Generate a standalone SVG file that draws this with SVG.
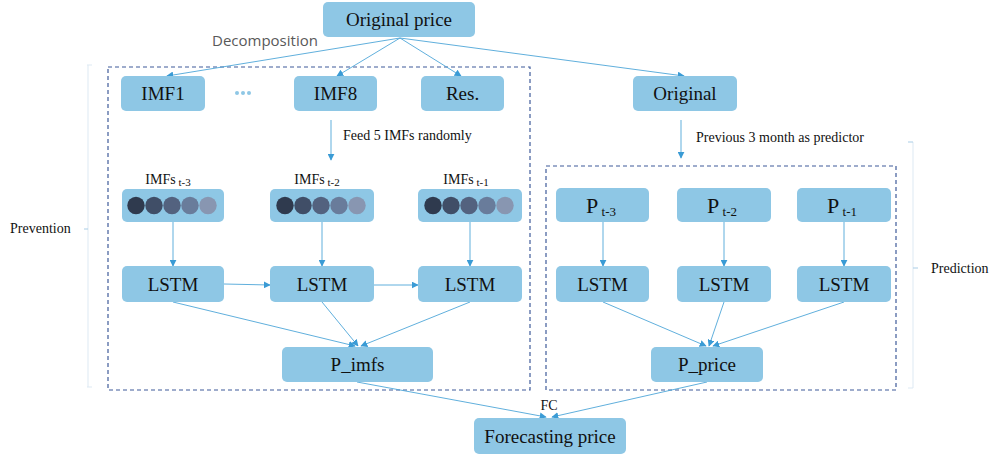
<svg xmlns="http://www.w3.org/2000/svg" width="999" height="462" viewBox="0 0 999 462">
<style>
.n{fill:#8ec7e5;}
.t{font-family:"Liberation Serif","Times New Roman",serif;font-size:19px;fill:#111;text-anchor:middle;}
.s{font-family:"Liberation Serif","Times New Roman",serif;font-size:14px;fill:#111;}
.c{stroke:#4ea6d8;stroke-width:0.9;fill:none;marker-end:url(#ah);}
.d{fill:none;stroke:#3f5b9a;stroke-width:1.2;stroke-dasharray:4 3;}
.b{fill:none;stroke:#dde9f3;stroke-width:1;}
.bt{stroke:#a9cde6;stroke-width:1;}
</style>
<defs>
<marker id="ah" viewBox="0 0 10 10" refX="9" refY="5" markerWidth="7" markerHeight="7" markerUnits="userSpaceOnUse" orient="auto">
<path d="M0,0 L10,5 L0,10 z" fill="#3a9bd5"/>
</marker>
<g id="dots">
<circle cx="0" cy="0" r="8.7" fill="#2f3a4e"/>
<circle cx="18" cy="0" r="8.7" fill="#404e67"/>
<circle cx="36" cy="0" r="8.7" fill="#53627f"/>
<circle cx="54" cy="0" r="8.7" fill="#697c9b"/>
<circle cx="72" cy="0" r="8.7" fill="#8896b1"/>
</g>
</defs>
<rect width="999" height="462" fill="#fff"/>

<!-- group frames -->
<rect class="d" x="108" y="67" width="422" height="323"/>
<rect class="d" x="546" y="166" width="350" height="224"/>

<!-- brackets -->
<g id="bracket-left">
<line class="b" x1="88" y1="65" x2="88" y2="387"/>
<line class="bt" x1="84" y1="229" x2="88" y2="229"/>
<line class="b" x1="87" y1="65" x2="92" y2="65"/>
<line class="b" x1="87" y1="387" x2="92" y2="387"/>
<text class="s" x="10" y="233">Prevention</text>
</g>
<g id="bracket-right">
<line class="b" x1="913" y1="142" x2="913" y2="388"/>
<line class="bt" x1="908" y1="142" x2="913" y2="142"/>
<line class="b" x1="908" y1="388" x2="913" y2="388"/>
<line class="bt" x1="913" y1="268" x2="918" y2="268"/>
<text class="s" x="931" y="273">Prediction</text>
</g>

<!-- connectors -->
<g id="connectors">
<line class="c" x1="400" y1="38" x2="167" y2="76"/>
<line class="c" x1="400" y1="38" x2="337" y2="76"/>
<line class="c" x1="400" y1="38" x2="461" y2="76"/>
<line class="c" x1="400" y1="38" x2="684" y2="76"/>
<line class="c" x1="331" y1="120" x2="331" y2="160"/>
<line class="c" x1="681" y1="120" x2="681" y2="158"/>
<line class="c" x1="173" y1="222" x2="173" y2="266"/>
<line class="c" x1="322" y1="222" x2="322" y2="266"/>
<line class="c" x1="470" y1="222" x2="470" y2="266"/>
<line class="c" x1="224" y1="284" x2="270" y2="285"/>
<line class="c" x1="374" y1="285" x2="418" y2="285"/>
<line class="c" x1="173" y1="302" x2="355" y2="346"/>
<line class="c" x1="322" y1="302" x2="358" y2="346"/>
<line class="c" x1="470" y1="302" x2="361" y2="346"/>
<line class="c" x1="603" y1="222" x2="603" y2="266"/>
<line class="c" x1="724" y1="222" x2="724" y2="266"/>
<line class="c" x1="844" y1="222" x2="844" y2="266"/>
<line class="c" x1="603" y1="302" x2="706" y2="346"/>
<line class="c" x1="724" y1="302" x2="709" y2="346"/>
<line class="c" x1="844" y1="302" x2="713" y2="346"/>
<line class="c" x1="357" y1="382" x2="546" y2="417"/>
<line class="c" x1="707" y1="382" x2="552" y2="417"/>
</g>

<!-- labels -->
<text x="212" y="46" font-family="'Open Sans','Noto Sans',sans-serif" font-size="15" fill="#595959">Decomposition</text>
<text class="s" x="343" y="140" font-size="14.3">Feed 5 IMFs randomly</text>
<text class="s" x="696" y="142" font-size="15.6">Previous 3 month as predictor</text>
<text class="s" x="549" y="410" text-anchor="middle">FC</text>
<g fill="#8ec7e5"><circle cx="237" cy="93" r="2"/><circle cx="243" cy="93" r="2"/><circle cx="249" cy="93" r="2"/></g>

<!-- nodes -->
<g id="original-price"><rect class="n" x="323" y="2" width="152" height="35" rx="5"/><text class="t" x="399" y="26">Original price</text></g>
<g id="imf1"><rect class="n" x="121" y="76" width="84" height="35" rx="5"/><text class="t" x="163" y="100">IMF1</text></g>
<g id="imf8"><rect class="n" x="294" y="76" width="83" height="35" rx="5"/><text class="t" x="335.5" y="100">IMF8</text></g>
<g id="res"><rect class="n" x="421" y="76" width="83" height="35" rx="5"/><text class="t" x="462.5" y="100">Res.</text></g>
<g id="original"><rect class="n" x="633" y="76" width="104" height="35" rx="5"/><text class="t" x="685" y="100">Original</text></g>

<g id="imfs-t3"><text class="s" x="168" y="184" text-anchor="middle">IMFs<tspan font-size="11" dy="2"> t-3</tspan></text><rect class="n" x="122" y="189" width="102" height="33" rx="5"/><use href="#dots" x="136" y="205.5"/></g>
<g id="imfs-t2"><text class="s" x="317" y="184" text-anchor="middle">IMFs<tspan font-size="11" dy="2"> t-2</tspan></text><rect class="n" x="270" y="189" width="104" height="33" rx="5"/><use href="#dots" x="285" y="205.5"/></g>
<g id="imfs-t1"><text class="s" x="466" y="184" text-anchor="middle">IMFs<tspan font-size="11" dy="2"> t-1</tspan></text><rect class="n" x="418" y="189" width="104" height="33" rx="5"/><use href="#dots" x="433" y="205.5"/></g>

<g id="lstm1"><rect class="n" x="122" y="266" width="102" height="36" rx="5"/><text class="t" x="173" y="291" font-size="20">LSTM</text></g>
<g id="lstm2"><rect class="n" x="270" y="266" width="104" height="36" rx="5"/><text class="t" x="322" y="291" font-size="20">LSTM</text></g>
<g id="lstm3"><rect class="n" x="418" y="266" width="104" height="36" rx="5"/><text class="t" x="470" y="291" font-size="20">LSTM</text></g>
<g id="p-imfs"><rect class="n" x="282" y="347" width="151" height="35" rx="5"/><text class="t" x="357.5" y="371">P_imfs</text></g>

<g id="p-t3"><rect class="n" x="556" y="188" width="93" height="34" rx="5"/><text class="t" x="601" y="213"><tspan font-size="22">P</tspan><tspan font-size="13" dy="3"> t-3</tspan></text></g>
<g id="p-t2"><rect class="n" x="677" y="188" width="94" height="34" rx="5"/><text class="t" x="722" y="213"><tspan font-size="22">P</tspan><tspan font-size="13" dy="3"> t-2</tspan></text></g>
<g id="p-t1"><rect class="n" x="797" y="188" width="94" height="34" rx="5"/><text class="t" x="842" y="213"><tspan font-size="22">P</tspan><tspan font-size="13" dy="3"> t-1</tspan></text></g>

<g id="lstm4"><rect class="n" x="556" y="266" width="93" height="36" rx="5"/><text class="t" x="602.5" y="291" font-size="20">LSTM</text></g>
<g id="lstm5"><rect class="n" x="677" y="266" width="94" height="36" rx="5"/><text class="t" x="724" y="291" font-size="20">LSTM</text></g>
<g id="lstm6"><rect class="n" x="797" y="266" width="94" height="36" rx="5"/><text class="t" x="844" y="291" font-size="20">LSTM</text></g>
<g id="p-price"><rect class="n" x="651" y="347" width="112" height="35" rx="5"/><text class="t" x="707" y="371">P_price</text></g>

<g id="forecasting-price"><rect class="n" x="474" y="418" width="152" height="36" rx="5"/><text class="t" x="550" y="443" font-size="20">Forecasting price</text></g>
</svg>
